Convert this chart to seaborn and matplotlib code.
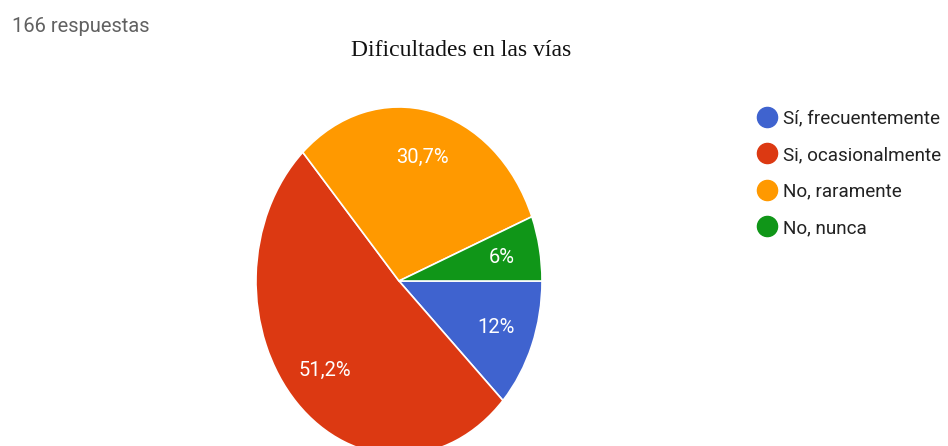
import matplotlib
matplotlib.use("Agg")
import matplotlib.pyplot as plt
import seaborn as sns
from matplotlib.lines import Line2D

# Datos
categorias = ["Sí, frecuentemente", "Si, ocasionalmente", "No, raramente", "No, nunca"]
respuestas = [20, 85, 51, 10]
total = 166
colores = ["#3f63cf", "#dc3912", "#ff9900", "#109618"]

sns.set_theme(style="white")
plt.rcParams["font.family"] = ["Roboto", "DejaVu Sans"]

fig = plt.figure(figsize=(9.48, 4.46), dpi=100)
ax = fig.add_axes([256 / 948, -9 / 446, 286 / 948, 348 / 446])


def fmt(pct):
    txt = f"{pct:.1f}".replace(".", ",")
    if txt.endswith(",0"):
        txt = txt[:-2]
    return txt + "%"


wedges, texts, autotexts = ax.pie(
    respuestas, colors=colores, startangle=0, counterclock=False,
    autopct=fmt, pctdistance=0.73,
    wedgeprops=dict(edgecolor="white", linewidth=1.2),
    textprops=dict(color="white", fontsize=14.5),
)
ax.set_aspect("auto")
ax.set_xlim(-1, 1)
ax.set_ylim(-1, 1)
ax.axis("off")

fig.text(12 / 948, 1 - 26 / 446, f"{total} respuestas", fontsize=14.5,
         color="#616161", va="center", ha="left")
fig.text(461 / 948, 1 - 50 / 446, "Dificultades en las vías", fontsize=17,
         family="Liberation Serif", color="#111111", va="center", ha="center")

handles = [Line2D([], [], marker="o", linestyle="", markersize=14.5,
                  markerfacecolor=c, markeredgecolor=c) for c in colores]
fig.legend(handles, categorias, loc="upper left",
           bbox_to_anchor=(746 / 948, 1 - 100 / 446), frameon=False,
           fontsize=13.6, labelspacing=0.98, handletextpad=0.25,
           handlelength=1.2, borderpad=0, labelcolor="#222222")

fig.savefig("out.png", dpi=100)
